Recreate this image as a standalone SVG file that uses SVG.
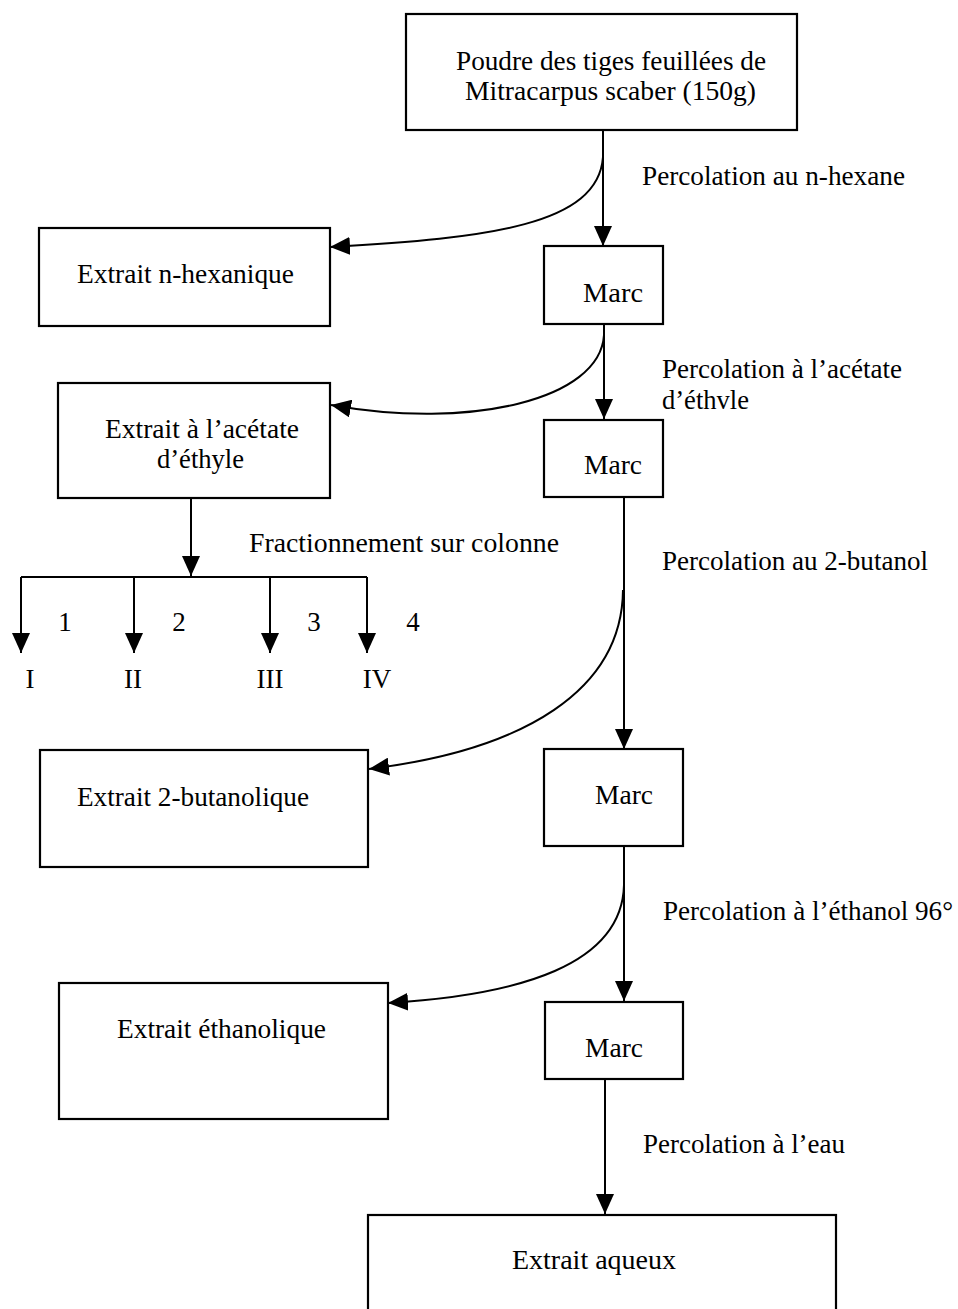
<svg xmlns="http://www.w3.org/2000/svg" width="958" height="1309" viewBox="0 0 958 1309">
<style>
  .box { fill: #ffffff; stroke: #000000; stroke-width: 2.2; }
  .con { fill: none; stroke: #000000; stroke-width: 2; }
  text { font-family: "Liberation Serif", "Times New Roman", serif; font-size: 27px; fill: #000000; }
</style>
<defs>
  <marker id="arr" markerUnits="userSpaceOnUse" markerWidth="20" markerHeight="18" refX="20" refY="9" orient="auto">
    <path d="M0,0 L20,9 L0,18 z" fill="#000000"/>
  </marker>
</defs>
<rect width="958" height="1309" fill="#ffffff"/>

<g id="connectors">
  <path class="con" d="M603,130 L603,246" marker-end="url(#arr)"/>
  <path class="con" d="M603,157 C598,225 490,238 330,247" marker-end="url(#arr)"/>
  <path class="con" d="M604,324 L604,419" marker-end="url(#arr)"/>
  <path class="con" d="M604,335 C600,400 470,430 331,405" marker-end="url(#arr)"/>
  <path class="con" d="M624,497 L624,749" marker-end="url(#arr)"/>
  <path class="con" d="M623,590 C622,690 525,750 369,769" marker-end="url(#arr)"/>
  <path class="con" d="M624,846 L624,1001" marker-end="url(#arr)"/>
  <path class="con" d="M624,885 C622,965 520,995 388,1003" marker-end="url(#arr)"/>
  <path class="con" d="M605,1079 L605,1214" marker-end="url(#arr)"/>
  <path class="con" d="M191,498 L191,576" marker-end="url(#arr)"/>
  <path class="con" d="M21,577 L367,577"/>
  <path class="con" d="M21,577 L21,653" marker-end="url(#arr)"/>
  <path class="con" d="M134,577 L134,653" marker-end="url(#arr)"/>
  <path class="con" d="M270,577 L270,653" marker-end="url(#arr)"/>
  <path class="con" d="M367,577 L367,653" marker-end="url(#arr)"/>
</g>

<g id="labels">
  <text x="642" y="185" textLength="263" lengthAdjust="spacingAndGlyphs">Percolation au n-hexane</text>
  <text x="662" y="378" textLength="240" lengthAdjust="spacingAndGlyphs">Percolation à l’acétate</text>
  <text x="662" y="409" textLength="87" lengthAdjust="spacingAndGlyphs">d’éthvle</text>
  <text x="249" y="552" textLength="310" lengthAdjust="spacingAndGlyphs">Fractionnement sur colonne</text>
  <text x="662" y="570" textLength="266" lengthAdjust="spacingAndGlyphs">Percolation au 2-butanol</text>
  <text x="663" y="920" textLength="290" lengthAdjust="spacingAndGlyphs">Percolation à l’éthanol 96°</text>
  <text x="643" y="1153" textLength="202" lengthAdjust="spacingAndGlyphs">Percolation à l’eau</text>
  <text x="65" y="631" text-anchor="middle">1</text>
  <text x="179" y="631" text-anchor="middle">2</text>
  <text x="314" y="631" text-anchor="middle">3</text>
  <text x="413" y="631" text-anchor="middle">4</text>
  <text x="30" y="688" text-anchor="middle">I</text>
  <text x="133" y="688" text-anchor="middle">II</text>
  <text x="270" y="688" text-anchor="middle">III</text>
  <text x="377" y="688" text-anchor="middle">IV</text>
</g>

<g id="node-poudre">
  <rect class="box" x="406" y="14" width="391" height="116"/>
  <text x="456" y="70" textLength="310" lengthAdjust="spacingAndGlyphs">Poudre des tiges feuillées de</text>
  <text x="465" y="100" textLength="291" lengthAdjust="spacingAndGlyphs">Mitracarpus scaber (150g)</text>
</g>
<g id="node-extrait-hexanique">
  <rect class="box" x="39" y="228" width="291" height="98"/>
  <text x="77" y="283" textLength="217" lengthAdjust="spacingAndGlyphs">Extrait n-hexanique</text>
</g>
<g id="node-marc1">
  <rect class="box" x="544" y="246" width="119" height="78"/>
  <text x="583" y="302" textLength="60" lengthAdjust="spacingAndGlyphs">Marc</text>
</g>
<g id="node-extrait-acetate">
  <rect class="box" x="58" y="383" width="272" height="115"/>
  <text x="105" y="438" textLength="194" lengthAdjust="spacingAndGlyphs">Extrait à l’acétate</text>
  <text x="157" y="468" textLength="87" lengthAdjust="spacingAndGlyphs">d’éthyle</text>
</g>
<g id="node-marc2">
  <rect class="box" x="544" y="420" width="119" height="77"/>
  <text x="584" y="474" textLength="58" lengthAdjust="spacingAndGlyphs">Marc</text>
</g>
<g id="node-extrait-butanolique">
  <rect class="box" x="40" y="750" width="328" height="117"/>
  <text x="77" y="806" textLength="232" lengthAdjust="spacingAndGlyphs">Extrait 2-butanolique</text>
</g>
<g id="node-marc3">
  <rect class="box" x="544" y="749" width="139" height="97"/>
  <text x="595" y="804" textLength="58" lengthAdjust="spacingAndGlyphs">Marc</text>
</g>
<g id="node-extrait-ethanolique">
  <rect class="box" x="59" y="983" width="329" height="136"/>
  <text x="117" y="1038" textLength="209" lengthAdjust="spacingAndGlyphs">Extrait éthanolique</text>
</g>
<g id="node-marc4">
  <rect class="box" x="545" y="1002" width="138" height="77"/>
  <text x="585" y="1057" textLength="58" lengthAdjust="spacingAndGlyphs">Marc</text>
</g>
<g id="node-extrait-aqueux">
  <rect class="box" x="368" y="1215" width="468" height="120"/>
  <text x="512" y="1269" textLength="164" lengthAdjust="spacingAndGlyphs">Extrait aqueux</text>
</g>
</svg>
